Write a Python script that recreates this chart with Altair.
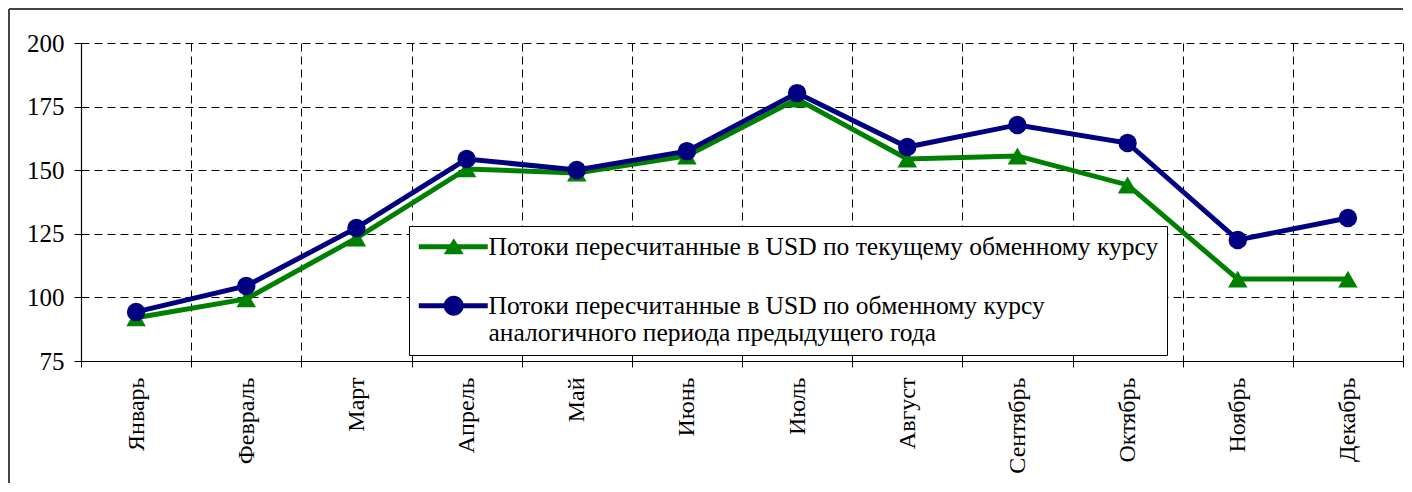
import altair as alt
import pandas as pd

months = ["Январь", "Февраль", "Март", "Апрель", "Май", "Июнь",
          "Июль", "Август", "Сентябрь", "Октябрь", "Ноябрь", "Декабрь"]
current_rate = [92.0, 99.4, 123.3, 150.5, 148.9, 155.6, 178.0, 154.4, 155.6, 144.2, 107.2, 107.2]
prev_year_rate = [94.3, 104.5, 127.3, 154.4, 150.1, 157.5, 180.3, 159.1, 167.8, 160.7, 122.6, 131.2]
series_names = [
    "Потоки пересчитанные в USD по текущему обменному курсу",
    "Потоки пересчитанные в USD по обменному курсу|аналогичного периода предыдущего года",
]
series_colors = ["#008000", "#000080"]
y_ticks = [75, 100, 125, 150, 175, 200]

rows = []
for m, v in zip(months, current_rate):
    rows.append({"month": m, "value": v, "series": series_names[0]})
for m, v in zip(months, prev_year_rate):
    rows.append({"month": m, "value": v, "series": series_names[1]})
df = pd.DataFrame(rows)

FONT = "Liberation Serif, Times New Roman, serif"

x_enc = alt.X(
    "month:N", sort=months, bandPosition=0.5,
    scale=alt.Scale(type="band", paddingInner=0, paddingOuter=0),
    axis=alt.Axis(
        title=None, labelAngle=270, tickBand="extent", grid=True,
        gridDash=[8, 5], gridColor="black", gridWidth=1,
        tickSize=6, tickColor="black", domainColor="black", domainWidth=1.2,
        labelFont=FONT, labelFontSize=24, labelColor="black", labelPadding=10,
    ),
)
y_enc = alt.Y(
    "value:Q",
    scale=alt.Scale(domain=[75, 200], nice=False, zero=False),
    axis=alt.Axis(
        title=None, values=y_ticks, grid=True, gridDash=[8, 5], gridColor="black",
        gridWidth=1, tickSize=7, tickColor="black", domainColor="black", domainWidth=1.2,
        labelFont=FONT, labelFontSize=25, labelColor="black", labelPadding=10,
    ),
)

base = alt.Chart(df).encode(x=x_enc, y=y_enc)

green = base.transform_filter(alt.datum.series == series_names[0])
blue = base.transform_filter(alt.datum.series == series_names[1])

green_line = green.mark_line(strokeWidth=5, color=series_colors[0])
green_pts = green.mark_point(shape="triangle-up", size=380, filled=True, opacity=1,
                             color=series_colors[0])
blue_line = blue.mark_line(strokeWidth=5, color=series_colors[1])
blue_pts = blue.mark_point(shape="circle", size=340, filled=True, opacity=1,
                           color=series_colors[1])

tri_path = "M-1.1,-0.25H5.8V0.25H-1.1Z M2.4,-0.85L3.4,0.75L1.4,0.75Z"
circ_path = "M-1.1,-0.25H5.8V0.25H-1.1Z M1.4,0A1,1 0 1,1 3.4,0A1,1 0 1,1 1.4,0Z"

legend_def = alt.Legend(
    title=None, orient="none", legendX=328, legendY=183,
    strokeColor="black", fillColor="white", padding=8,
    symbolSize=400, symbolOpacity=1, symbolStrokeWidth=0,
    labelFont=FONT, labelFontSize=25.5, labelColor="black", labelLimit=2000,
    labelOffset=46, rowPadding=32,
    labelExpr="split(datum.label, '|')",
)

legend_layer = base.mark_point(filled=True, opacity=0).encode(
    color=alt.Color("series:N", scale=alt.Scale(domain=series_names, range=series_colors),
                    legend=legend_def),
    shape=alt.Shape("series:N", scale=alt.Scale(domain=series_names, range=[tri_path, circ_path]),
                    legend=legend_def),
)

frame_left = alt.Chart(df).mark_rule(color="#444444", strokeWidth=1.5).encode(
    x=alt.value(-72), y=alt.value(-34), y2=alt.value(440)
)
frame_top = alt.Chart(df).mark_rule(color="#444444", strokeWidth=1.5).encode(
    x=alt.value(-72), x2=alt.value(1322), y=alt.value(-34)
)

chart = alt.layer(
    frame_left, frame_top, green_line, green_pts, blue_line, blue_pts, legend_layer
).properties(
    width=1322, height=318, padding=0, background="white"
).configure_view(stroke=None)

chart.save("out.html", embed_options={"renderer": "svg", "actions": False})
